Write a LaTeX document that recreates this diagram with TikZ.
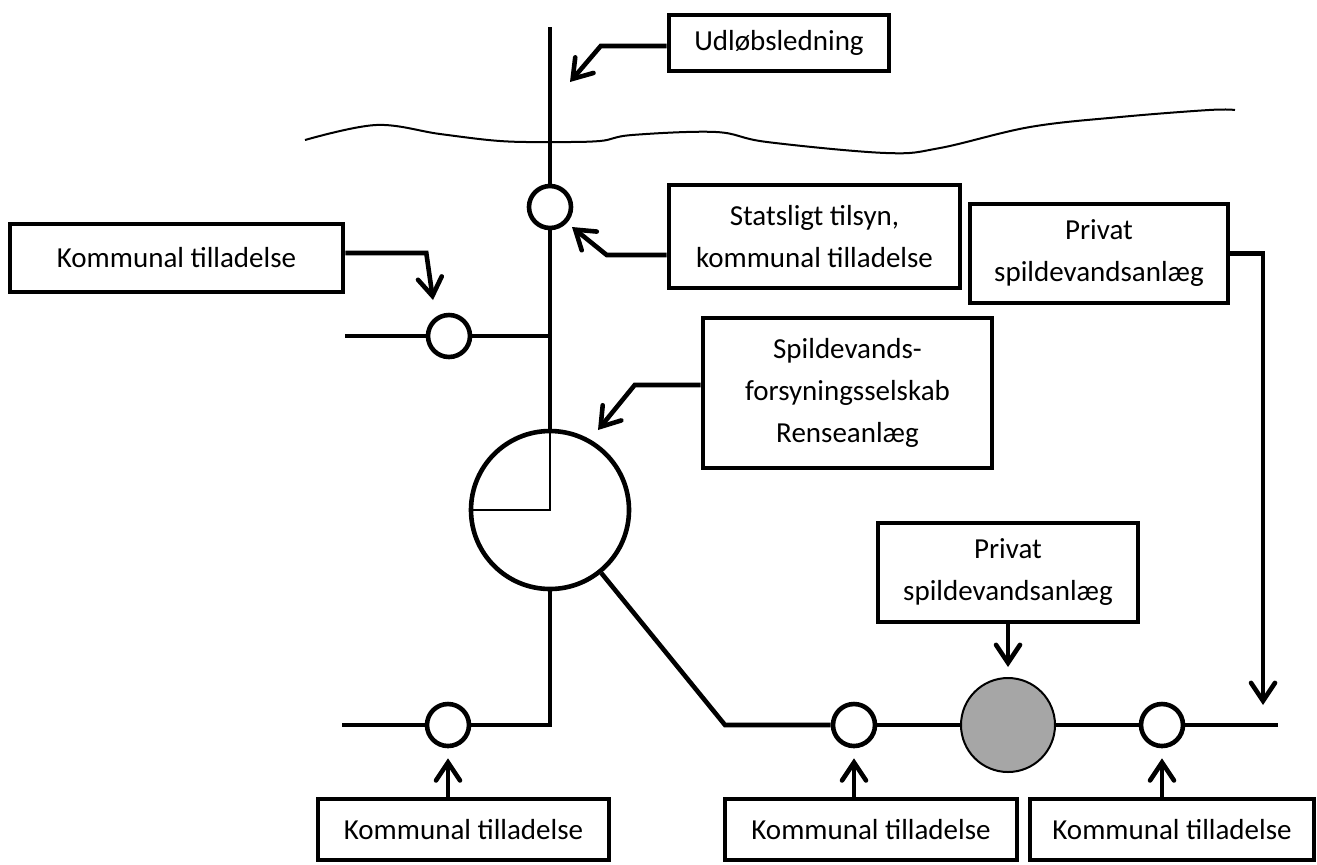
\documentclass[tikz,border=0pt]{standalone}
\usepackage{fontspec}
\setmainfont{Carlito}
\usetikzlibrary{arrows.meta}
\begin{document}
\begin{tikzpicture}[x=0.5pt,y=-0.5pt,
  box/.style={draw,line width=2.3pt,rectangle,inner sep=0pt,align=center,
    font=\fontsize{14.5}{21}\selectfont},
  pipe/.style={line width=2.3pt,line join=miter},
  valve/.style={draw,circle,line width=2.3pt,fill=white,inner sep=0pt,minimum size=21pt},
  arr/.style={line width=2.3pt,line join=miter,-{Straight Barb[length=9pt,width=12pt,line cap=round]}}]
\useasboundingbox (0,0) rectangle (1317,864);

% wave
\draw[line width=1pt] plot[smooth,tension=0.6] coordinates {(305,140) (376,125) (440,134) (500,141) (552,142) (600,141) (632,135) (716,132) (767,142) (886,153) (940,148) (1030,127) (1120,117) (1209,110) (1235,110)};

% boxes
\node[box,minimum width=110pt,minimum height=28pt] (udl) at (779,43) {Udløbsledning};
\node[box,minimum width=145.5pt,minimum height=51.5pt] (stat) at (814.5,236.5) {Statsligt tilsyn,\\kommunal tilladelse};
\node[box,minimum width=129pt,minimum height=49.5pt] (priv1) at (1099,253.5) {Privat\\spildevandsanlæg};
\node[box,minimum width=166.5pt,minimum height=34pt] (kom1) at (176.5,258) {Kommunal tilladelse};
\node[box,minimum width=144.5pt,minimum height=75pt] (spild) at (847.5,393) {Spildevands-\\forsyningsselskab\\Renseanlæg};
\node[box,minimum width=130pt,minimum height=49.5pt] (priv2) at (1008,572.5) {Privat\\spildevandsanlæg};
\node[box,minimum width=145.5pt,minimum height=30.5pt] (kb1) at (463.5,829.5) {Kommunal tilladelse};
\node[box,minimum width=146pt,minimum height=30.5pt] (kb2) at (871,829.5) {Kommunal tilladelse};
\node[box,minimum width=142pt,minimum height=30.5pt] (kb3) at (1172,829.5) {Kommunal tilladelse};

% circles
\node[valve] (c1) at (550,207) {};
\node[valve] (c2) at (449,336) {};
\node[draw,circle,line width=2.3pt,fill=white,inner sep=0pt,minimum size=79pt] (big) at (550,510) {};
\node[valve] (c3) at (448,725) {};
\node[valve] (c4) at (854,725) {};
\node[draw,circle,line width=1pt,fill={rgb,255:red,166;green,166;blue,166},inner sep=0pt,minimum size=47pt] (gray) at (1008,725) {};
\node[valve] (c5) at (1162,725) {};

% coordinates
\coordinate (top) at (550,27);
\coordinate (j1) at (550,336);
\coordinate (l1) at (345,336);
\coordinate (j2) at (550,725);
\coordinate (l2) at (342,725);
\coordinate (k) at (725,725);
\coordinate (rend) at (1278,725);
\coordinate (rc) at (1263,253.5);
\coordinate (rtip) at (1263,705);
\coordinate (udltip) at (570,82);
\coordinate (stattip) at (572,227);
\coordinate (komtip) at (433,300);
\coordinate (spildtip) at (598,430);
\coordinate (center) at (550,510);
\coordinate (bigleft) at (471,510);

% pipes
\draw[pipe] (top) -- (c1);
\draw[pipe] (c1) -- (big);
\draw[pipe] (l1) -- (c2);
\draw[pipe] (c2) -- (j1);
\draw[pipe] (big) -- (j2) -- (c3);
\draw[pipe] (l2) -- (c3);
\draw[pipe] (big) -- (k) -- (c4);
\draw[pipe] (c4) -- (gray);
\draw[pipe] (gray) -- (c5);
\draw[pipe] (c5) -- (rend);

% inner lines of the treatment plant
\draw[line width=0.7pt] (big.north) -- (center) -- (bigleft);

% arrows
\draw[arr] ([yshift=-1.5pt]udl.west) -- ++(-66,0) -- (udltip);
\draw[arr] ([yshift=-9.25pt]stat.west) -- ++(-60,0) -- (stattip);
\draw[arr] ([yshift=2.5pt]kom1.east) -- ++(81,0) -- (komtip);
\draw[arr] ([yshift=4pt]spild.west) -- ++(-66,0) -- (spildtip);
\draw[arr] (priv1.east) -- (rc) -- (rtip);
\draw[arr,shorten >=5pt] (priv2.south) -- (gray);
\draw[arr,shorten >=5pt] (kb1.north -| c3) -- (c3);
\draw[arr,shorten >=5pt] (kb2.north -| c4) -- (c4);
\draw[arr,shorten >=5pt] (kb3.north -| c5) -- (c5);
\end{tikzpicture}
\end{document}
